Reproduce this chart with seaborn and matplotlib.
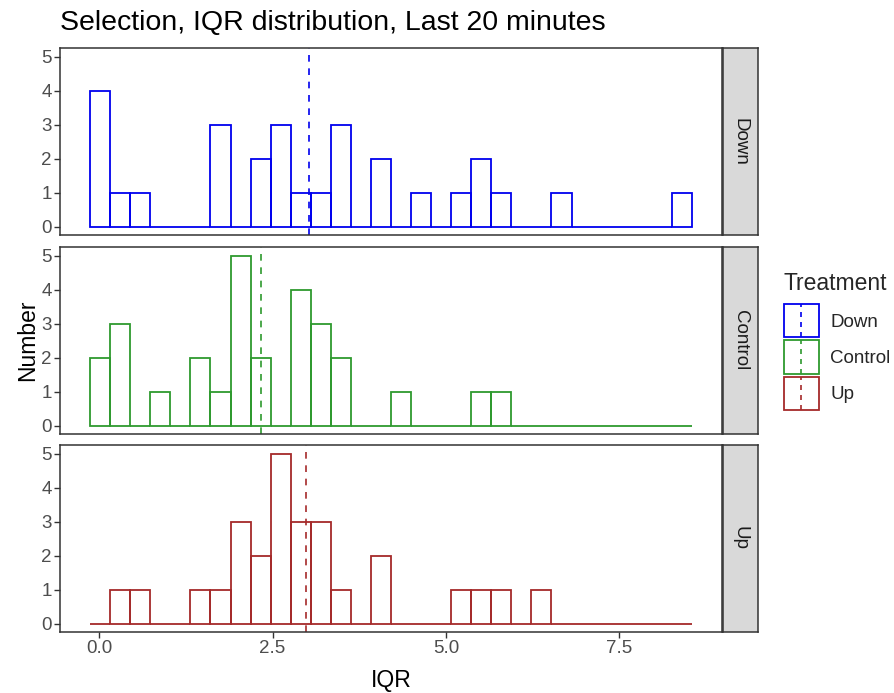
import matplotlib
matplotlib.use("Agg")
import matplotlib.pyplot as plt
import numpy as np
import pandas as pd
import seaborn as sns
from matplotlib.legend_handler import HandlerPatch
from matplotlib.patches import Rectangle
from matplotlib.lines import Line2D

# histogram layout: 30 bins, first centred near 0.01
bin_first_center = 0.011
bin_width = 0.2895
n_bins = 30

treatments = ["Down", "Control", "Up"]
colors = {"Down": "#0000EE", "Control": "#2E9A2E", "Up": "#A52A2A"}

# counts per bin, left to right
down_counts = [4, 1, 1, 0, 0, 0, 3, 0, 2, 3, 1, 1, 3, 0, 2,
               0, 1, 0, 1, 2, 1, 0, 0, 1, 0, 0, 0, 0, 0, 1]
control_counts = [2, 3, 0, 1, 0, 2, 1, 5, 2, 0, 4, 3, 2, 0, 0,
                  1, 0, 0, 0, 1, 1, 0, 0, 0, 0, 0, 0, 0, 0, 0]
up_counts = [0, 1, 1, 0, 0, 1, 1, 3, 2, 5, 3, 3, 1, 0, 2,
             0, 0, 0, 1, 1, 1, 0, 1, 0, 0, 0, 0, 0, 0, 0]

# mean IQR per treatment (dashed lines)
means = {"Down": 3.03, "Control": 2.33, "Up": 2.98}

x_ticks = [0.0, 2.5, 5.0, 7.5]
y_ticks = [0, 1, 2, 3, 4, 5]

centers = bin_first_center + bin_width * np.arange(n_bins)
edges = np.append(centers - bin_width / 2, centers[-1] + bin_width / 2)

df = pd.DataFrame({
    "center": np.tile(centers, 3),
    "count": down_counts + control_counts + up_counts,
    "Treatment": np.repeat(treatments, n_bins),
})

sns.set_theme(style="white")
plt.rcParams["font.family"] = ["Liberation Sans", "DejaVu Sans"]

W, H = 894, 693
fig = plt.figure(figsize=(W / 100, H / 100), dpi=100)

panel_left, panel_right, strip_right = 60, 722, 758
panel_tops = [48, 247, 445]
panel_h = 187
border = "#333333"

xmin, xmax = edges[0], edges[-1]
xpad = (xmax - xmin) * 0.05
ylo, yhi = -0.25, 5.25

axes = []
for i, (tr, top) in enumerate(zip(treatments, panel_tops)):
    ax = fig.add_axes([panel_left / W, 1 - (top + panel_h) / H,
                       (panel_right - panel_left) / W, panel_h / H])
    sub = df[df["Treatment"] == tr]
    sns.histplot(data=sub, x="center", weights="count", bins=list(edges),
                 fill=False, element="bars", color=colors[tr],
                 linewidth=1.3, ax=ax)
    ax.axvline(means[tr], color=colors[tr], linestyle=(0, (4, 4)), linewidth=1.2)
    ax.set_xlim(xmin - xpad, xmax + xpad)
    ax.set_ylim(ylo, yhi)
    ax.set_yticks(y_ticks)
    ax.set_xticks(x_ticks)
    ax.set_xlabel("")
    ax.set_ylabel("")
    ax.tick_params(axis="both", which="both", length=4, width=1,
                   color=border, labelcolor="#4D4D4D", labelsize=13.5, pad=2,
                   left=True, bottom=True)
    if i < 2:
        ax.tick_params(axis="x", bottom=False, labelbottom=False)
    else:
        ax.set_xticklabels([f"{t:.1f}" for t in x_ticks])
    for s in ax.spines.values():
        s.set_color(border)
        s.set_linewidth(1.1)
        s.set_visible(True)
    ax.grid(False)
    axes.append(ax)

    # facet strip
    sax = fig.add_axes([(panel_right + 0.5) / W, 1 - (top + panel_h) / H,
                        (strip_right - panel_right - 0.5) / W, panel_h / H])
    sax.set_facecolor("#D9D9D9")
    sax.set_xticks([])
    sax.set_yticks([])
    for s in sax.spines.values():
        s.set_color(border)
        s.set_linewidth(1.1)
    sax.text(0.5, 0.5, tr, rotation=-90, ha="center", va="center",
             fontsize=13.5, color="#1A1A1A", transform=sax.transAxes)

fig.text(60 / W, 1 - 23 / H, "Selection, IQR distribution, Last 20 minutes",
         fontsize=20.5, ha="left", va="center", color="black")
fig.text(28 / W, 1 - 340 / H, "Number", rotation=90, fontsize=16.5,
         ha="center", va="center", color="black")
fig.text(391 / W, 1 - 680 / H, "IQR", fontsize=16.5,
         ha="center", va="center", color="black")


class BoxDashHandler(HandlerPatch):
    def create_artists(self, legend, orig_handle, xdescent, ydescent,
                       width, height, fontsize, trans):
        col = orig_handle.get_edgecolor()
        box = Rectangle((-xdescent, -ydescent), width, height,
                        facecolor="white", edgecolor=col, linewidth=1.3,
                        transform=trans)
        mid = -xdescent + width / 2
        line = Line2D([mid, mid], [-ydescent, -ydescent + height],
                      color=col, linestyle=(0, (3, 3)), linewidth=1.2,
                      transform=trans)
        return [box, line]


handles = [Rectangle((0, 0), 1, 1, facecolor="white", edgecolor=colors[t])
           for t in treatments]
leg = fig.legend(handles, treatments, loc="upper left",
                 bbox_to_anchor=(776 / W, 1 - 264 / H), frameon=False,
                 title="Treatment", fontsize=13.5, title_fontsize=16.5,
                 handlelength=1.9, handleheight=2.35, labelspacing=0.16,
                 handletextpad=0.6, borderaxespad=0,
                 handler_map={Rectangle: BoxDashHandler()})
leg._legend_box.align = "left"
leg._legend_box.sep = 7

fig.savefig("out.png", dpi=100)
